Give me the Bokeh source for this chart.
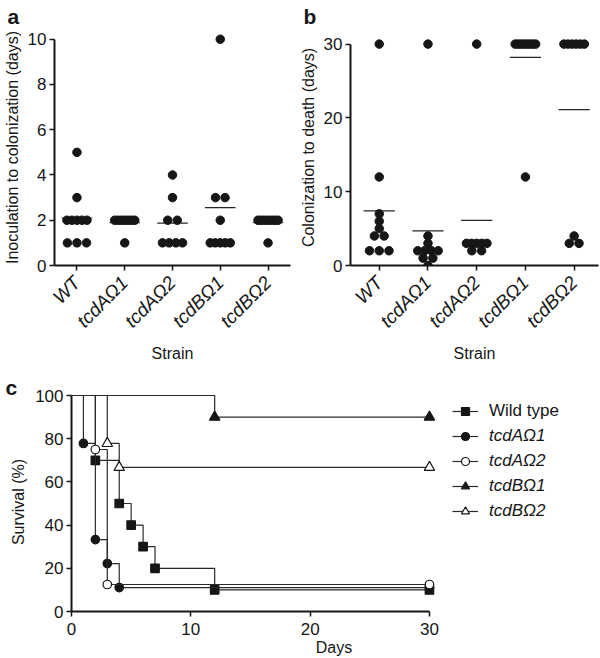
import math
import numpy as np
from bokeh.plotting import figure
from bokeh.models import (Range1d, FixedTicker, Legend, LegendItem)
from bokeh.layouts import row, column
from bokeh.embed import file_html
from bokeh.resources import INLINE

# ---------------- data ----------------
strains = ["WT", "tcdAΩ1", "tcdAΩ2", "tcdBΩ1", "tcdBΩ2"]

# panel a: inoculation to colonization (days)
colon_wt = [5, 3, 2, 2, 2, 2, 2, 1, 1, 1]
colon_a1 = [2, 2, 2, 2, 2, 2, 2, 2, 1]
colon_a2 = [4, 3, 2, 2, 1, 1, 1, 1]
colon_b1 = [10, 3, 3, 2, 1, 1, 1, 1, 1]
colon_b2 = [2, 2, 2, 2, 2, 2, 2, 2, 1]

# panel b: colonization to death (days)
death_wt = [30, 12, 7, 6, 5, 4, 4, 2, 2, 2]
death_a1 = [30, 4, 3, 2, 2, 2, 2, 1, 1, 0]
death_a2 = [30, 3, 3, 3, 3, 3, 2, 2]
death_b1 = [30, 30, 30, 30, 30, 30, 30, 30, 30, 12]
death_b2 = [30, 30, 30, 30, 30, 30, 4, 3, 3]

# panel c: survival (%)
days_wt = [0, 2, 4, 5, 6, 7, 12, 30]
surv_wt = [100, 70, 50, 40, 30, 20, 10, 10]
days_a1 = [0, 1, 2, 3, 4, 30]
surv_a1 = [100, 77.8, 33.3, 22.2, 11.1, 11.1]
days_a2 = [0, 2, 3, 30]
surv_a2 = [100, 75, 12.5, 12.5]
days_b1 = [0, 12, 30]
surv_b1 = [100, 90, 90]
days_b2 = [0, 3, 4, 30]
surv_b2 = [100, 77.8, 66.7, 66.7]

FONT = "Liberation Sans"
INK = "#161616"


def swarm(vals, idx):
    xs, ys = [], []
    for v in sorted(set(vals), reverse=True):
        n = vals.count(v)
        sp = min(0.2, 0.42 / (n - 1)) if n > 1 else 0.0
        for k in range(n):
            xs.append(idx + (k - (n - 1) / 2) * sp)
            ys.append(v)
    return xs, ys


def style_axes(p, tick_size="17px", label_size="16px"):
    for ax in (p.xaxis[0], p.yaxis[0]):
        ax.axis_line_width = 2
        ax.axis_line_color = INK
        ax.major_tick_line_width = 1.5
        ax.major_tick_line_color = INK
        ax.major_tick_out = 5
        ax.major_tick_in = 0
        ax.minor_tick_line_color = None
        ax.major_label_text_font = FONT
        ax.major_label_text_font_size = tick_size
        ax.major_label_text_color = INK
        ax.major_label_standoff = 3
        ax.axis_label_text_font = FONT
        ax.axis_label_text_font_size = label_size
        ax.axis_label_text_font_style = "normal"
        ax.axis_label_text_color = INK
    p.xgrid.grid_line_color = None
    p.ygrid.grid_line_color = None
    p.outline_line_color = None
    p.background_fill_color = None
    p.border_fill_color = None


def letter_title(p, letter, offset, standoff):
    p.title.text = letter
    p.title.align = "left"
    p.title.offset = offset
    p.title.standoff = standoff
    p.title.text_font = FONT
    p.title.text_font_size = "21px"
    p.title.text_font_style = "bold"
    p.title.text_color = INK
    p.title.text_line_height = 1.0


def strip_fig(groups, width, left, xr, yr, ybound, yticks, ylabel, letter, loff):
    p = figure(width=width, height=367, x_range=Range1d(*xr), y_range=Range1d(*yr),
               output_backend="svg", toolbar_location=None, title=letter,
               min_border_left=left, min_border_right=2, min_border_top=28,
               min_border_bottom=102)
    style_axes(p)
    letter_title(p, letter, loff, 4)
    p.yaxis[0].ticker = FixedTicker(ticks=yticks)
    p.yaxis[0].bounds = ybound
    p.yaxis[0].axis_label = ylabel
    p.yaxis[0].axis_label_standoff = 4
    p.xaxis[0].ticker = FixedTicker(ticks=list(range(len(strains))))
    p.xaxis[0].major_label_overrides = {i: s for i, s in enumerate(strains)}
    p.xaxis[0].major_label_orientation = math.pi / 4
    p.xaxis[0].major_label_text_font_style = "italic"
    p.xaxis[0].major_label_text_font_size = "19px"
    p.xaxis[0].major_label_standoff = 9
    p.xaxis[0].axis_label = "Strain"
    p.xaxis[0].axis_label_standoff = 3
    xs_all, ys_all = [], []
    for i, g in enumerate(groups):
        xs, ys = swarm(g, i)
        xs_all += xs
        ys_all += ys
        m = float(np.mean(g))
        p.segment(x0=[i - 0.32], x1=[i + 0.32], y0=[m], y1=[m],
                  line_color="#262626", line_width=1.2)
    p.scatter(xs_all, ys_all, marker="circle", size=8.5, fill_color=INK, line_color=INK)
    return p


pa = strip_fig([colon_wt, colon_a1, colon_a2, colon_b1, colon_b2], 292, 50,
               (-0.47, 4.47), (0, 10.43), (0, 10), [0, 2, 4, 6, 8, 10],
               "Inoculation to colonization (days)", "a", -47)
pb = strip_fig([death_wt, death_a1, death_a2, death_b1, death_b2], 308, 58,
               (-0.59, 4.5), (0, 31.98), (0, 30), [0, 10, 20, 30],
               "Colonization to death (days)", "b", -47)

# ---------------- panel c ----------------
pc = figure(width=600, height=291, x_range=Range1d(0, 44.0), y_range=Range1d(0, 101.4),
            output_backend="svg", toolbar_location=None, title="c",
            min_border_left=71, min_border_right=4, min_border_top=25,
            min_border_bottom=47)
style_axes(pc)
letter_title(pc, "c", -66, -13)
pc.xaxis[0].ticker = FixedTicker(ticks=[0, 10, 20, 30])
pc.xaxis[0].bounds = (0, 30)
pc.xaxis[0].axis_label = "Days"
pc.xaxis[0].axis_label_standoff = 1
pc.xaxis[0].major_label_standoff = 6
pc.yaxis[0].ticker = FixedTicker(ticks=[0, 20, 40, 60, 80, 100])
pc.yaxis[0].bounds = (0, 100)
pc.yaxis[0].axis_label = "Survival (%)"
pc.yaxis[0].axis_label_standoff = 5

series = [
    ("Wild type", days_wt, surv_wt, "square", INK, 8.5),
    ("tcdAΩ1", days_a1, surv_a1, "circle", INK, 8.5),
    ("tcdAΩ2", days_a2, surv_a2, "circle", "white", 8.5),
    ("tcdBΩ1", days_b1, surv_b1, "triangle", INK, 10.5),
    ("tcdBΩ2", days_b2, surv_b2, "triangle", "white", 10.5),
]
items = []
for name, dx, sy, mk, fill, sz in series:
    ln = pc.step(dx, sy, mode="after", line_color="#2a2a2a", line_width=1.2)
    sc = pc.scatter(dx[1:], sy[1:], marker=mk, size=sz, fill_color=fill,
                    line_color=INK, line_width=1.2)
    items.append(LegendItem(label=name, renderers=[ln, sc]))


def make_legend(its, loc, fstyle):
    return Legend(items=its, location=loc, orientation="vertical",
                  border_line_color=None, background_fill_alpha=0,
                  padding=0, margin=0, spacing=5, glyph_width=26, glyph_height=20,
                  label_height=20, label_standoff=11, label_text_font=FONT,
                  label_text_font_size="17px", label_text_font_style=fstyle,
                  label_text_color=INK)


pc.add_layout(make_legend(items[:1], (381, 190), "normal"))
pc.add_layout(make_legend(items[1:], (381, 90), "italic"))

layout = column(row(pa, pb), pc)
open("out.html", "w").write(file_html(layout, INLINE))
